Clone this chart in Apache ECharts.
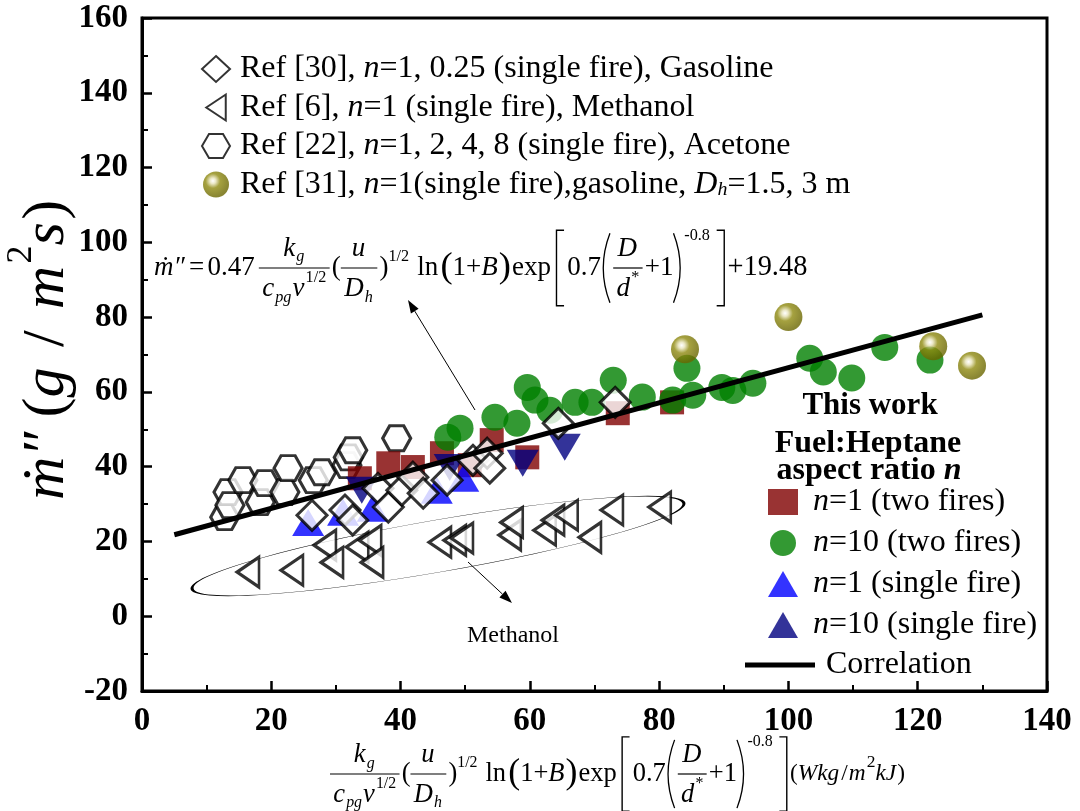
<!DOCTYPE html>
<html>
<head>
<meta charset="utf-8">
<script src="https://cdn.jsdelivr.net/npm/echarts@6/dist/echarts.min.js"></script>
<style>
  html, body { margin: 0; padding: 0; background: #fff; }
  #main { width: 1080px; height: 811px; }
</style>
</head>
<body>
<div id="main"></div>
<script>
var SERIF = '"Liberation Serif", "Times New Roman", serif';

// ---- data ----
var ref30 = [[26.3, 27.0], [31.4, 28.4], [32.6, 25.7], [36.5, 34.2], [38.1, 29.2], [40.2, 33.7],
  [41.9, 37.2], [43.5, 32.9], [47.2, 36.4], [51.2, 41.7], [53.4, 43.6], [53.8, 39.6],
  [64.4, 51.6], [73.2, 57.2]];
var ref6 = [[16.4, 11.8], [23.2, 12.3], [28.3, 19.0], [29.4, 14.4], [33.3, 18.5], [35.3, 20.3],
  [35.6, 14.4], [46.1, 19.8], [48.4, 20.3], [49.5, 20.9], [56.9, 21.7], [57.2, 25.1],
  [62.3, 23.0], [63.6, 25.7], [65.7, 27.0], [69.3, 21.1], [72.7, 28.4], [80.1, 29.2]];
var ref22 = [[12.8, 26.5], [13.3, 33.2], [13.6, 29.7], [15.6, 36.4], [18.3, 30.5], [19.0, 35.6],
  [22.1, 33.2], [22.6, 39.6], [26.5, 36.4], [27.8, 38.5], [31.7, 40.4], [31.9, 42.5],
  [32.6, 44.4], [39.4, 47.6]];
var ref31 = [[84.0, 71.4], [100.0, 80.0], [122.4, 72.2], [128.4, 67.0]];
var twoFiresN1 = [[33.7, 36.9], [38.1, 40.9], [41.9, 39.9], [46.4, 43.6], [50.7, 40.4],
  [54.1, 47.1], [59.6, 42.5], [73.6, 54.3], [82.0, 57.2]];
var twoFiresN10 = [[47.3, 47.9], [49.2, 50.3], [54.6, 53.2], [59.6, 61.2], [58.0, 51.6],
  [60.8, 57.8], [63.1, 55.1], [67.0, 57.2], [69.6, 57.2], [72.9, 63.1], [77.4, 58.6],
  [82.1, 57.8], [84.3, 66.3], [85.2, 59.1], [89.7, 61.2], [91.4, 60.4], [94.5, 62.3],
  [103.3, 69.0], [105.4, 65.3], [109.8, 63.7], [114.9, 71.9], [121.9, 68.5]];
var singleN1 = [[25.7, 25.1], [31.1, 27.8], [35.7, 28.9], [45.6, 33.7], [49.7, 36.9]];
var singleN10 = [[34.0, 33.7], [47.6, 39.8], [58.9, 40.9], [65.4, 45.2]];
var correlation = [[5, 21.8], [130, 80.6]];
var xTicks = { min: 0, max: 140, step: 20 };
var yTicks = { min: -20, max: 160, step: 20 };

// ---- little typesetter for the formulas ----
var mctx = document.createElement('canvas').getContext('2d');
function fontOf(size, it, bold) {
  return (it ? 'italic ' : '') + (bold ? 'bold ' : '') + Math.round(size * 10) / 10 + 'px ' + SERIF;
}
function tw(s, f) { mctx.font = f; return mctx.measureText(s).width; }

function row(tokens, x, y, size) {
  var els = [], cx = x;
  tokens.forEach(function (tk) {
    if (tk.gap != null) {
      cx += tk.gap * size;
    } else if (tk.frac) {
      var n = row(tk.frac[0], 0, 0, size), d = row(tk.frac[1], 0, 0, size);
      var w = Math.max(n.w, d.w) + size * 0.25;
      els = els.concat(row(tk.frac[0], cx + (w - n.w) / 2, y - size * 0.72, size).els,
        row(tk.frac[1], cx + (w - d.w) / 2, y + size * 0.78, size).els);
      els.push({ type: 'line', shape: { x1: cx, y1: y, x2: cx + w, y2: y },
        style: { stroke: '#000', lineWidth: 1.2 } });
      cx += w + size * 0.08;
    } else if (tk.big) {
      var h = size * 1.4, bw = size * 0.28;
      if (tk.big === '[' || tk.big === ']') {
        var x0 = tk.big === '[' ? cx + bw : cx, x1 = tk.big === '[' ? cx : cx + bw;
        els.push({ type: 'polyline', shape: { points: [[x0, y - h], [x1, y - h], [x1, y + h], [x0, y + h]] },
          style: { stroke: '#000', lineWidth: 1.4, fill: null } });
      } else {
        var a = tk.big === '(' ? cx + bw : cx, b = tk.big === '(' ? cx - bw * 0.15 : cx + bw * 1.15;
        var hh = h * 0.92;
        els.push({ type: 'bezierCurve', shape: { x1: a, y1: y - hh, x2: a, y2: y + hh,
          cpx1: b, cpy1: y - hh * 0.35, cpx2: b, cpy2: y + hh * 0.35 },
          style: { stroke: '#000', lineWidth: 1.3, fill: null } });
      }
      cx += bw + size * 0.12;
    } else {
      var small = tk.sub != null || tk.sup != null;
      var sz = (small ? size * 0.6 : size) * (tk.sc || 1);
      var s = tk.t != null ? tk.t : (tk.sub != null ? tk.sub : tk.sup);
      var dy = tk.sub != null ? size * 0.32 : (tk.sup != null ? -size * 0.42 : 0);
      if (tk.dy != null) dy = tk.dy * size;
      var f = fontOf(sz, tk.i);
      els.push({ type: 'text', x: cx, y: y + dy,
        style: { text: s, font: f, fill: '#000', verticalAlign: 'middle', textVerticalAlign: 'middle' } });
      cx += tw(s, f) + (tk.i ? size * 0.04 : 0);
    }
  });
  return { els: els, w: cx - x };
}

var fracK = { frac: [[{ t: 'k', i: 1 }, { sub: 'g', i: 1 }],
  [{ t: 'c', i: 1 }, { sub: 'pg', i: 1 }, { t: 'v', i: 1 }, { sup: '1/2' }]] };
var fracU = { frac: [[{ t: 'u', i: 1 }], [{ t: 'D', i: 1 }, { sub: 'h', i: 1 }]] };
var fracD = { frac: [[{ t: 'D', i: 1 }], [{ t: 'd', i: 1 }, { sup: '*' }]] };
var core = [fracK, { t: '(' }, fracU, { t: ')' }, { sup: '1/2' }, { gap: 0.3 }, { t: 'ln' }, { gap: 0.08 },
  { t: '(', sc: 1.35, dy: -0.02 }, { t: '1+' }, { t: 'B', i: 1 }, { t: ')', sc: 1.35, dy: -0.02 },
  { gap: 0.04 }, { t: 'exp' }, { gap: 0.2 }, { big: '[' }, { t: '0.7' }, { gap: 0.05 }, { big: '(' },
  fracD, { t: '+1' }, { big: ')' }, { sup: '-0.8', dy: -1.2 }, { gap: 0.25 }, { big: ']' }];
var topFormula = [{ t: 'ṁ″', i: 1 }, { gap: 0.12 }, { t: '=' }, { gap: 0.12 }, { t: '0.47' },
  { gap: 0.15 }].concat(core, [{ t: '+19.48', sc: 1.05 }]);
var xFormula = core.concat([{ t: '(', sc: 0.88 }, { t: 'Wkg', i: 1, sc: 0.88 }, { gap: 0.04 },
  { t: '/', sc: 0.88 }, { gap: 0.04 }, { t: 'm', i: 1, sc: 0.88 }, { sup: '2', sc: 1.1 },
  { t: 'kJ', i: 1, sc: 0.88 }, { t: ')', sc: 0.88 }]);
var yName = [{ t: 'ṁ″', i: 1 }, { gap: 0.2 }, { t: '(' }, { t: 'g', i: 1 }, { gap: 0.3 }, { t: '/' },
  { gap: 0.35 }, { t: 'm', i: 1 }, { sup: '2' }, { t: 's', i: 1 }, { t: ')' }];

var fTop = row(topFormula, 154, 268, 27);
var fX = row(xFormula, 330, 774, 26.5);
var fY = row(yName, 0, 0, 60);

function arrow(x1, y1, x2, y2) {
  var ang = Math.atan2(y2 - y1, x2 - x1), L = 13, W = 4.5;
  var bx = x2 - L * Math.cos(ang), by = y2 - L * Math.sin(ang);
  return [
    { type: 'line', shape: { x1: x1, y1: y1, x2: bx, y2: by }, style: { stroke: '#000', lineWidth: 1 } },
    { type: 'polygon', shape: { points: [[x2, y2],
      [bx + W * Math.sin(ang), by - W * Math.cos(ang)],
      [bx - W * Math.sin(ang), by + W * Math.cos(ang)]] }, style: { fill: '#000' } }
  ];
}

var hexagon = 'path://M0,5 L2.9,0 L8.7,0 L11.6,5 L8.7,10 L2.9,10 Z';
var leftTri = 'path://M0,6 L9,0 L9,12 Z';
var sphere = new echarts.graphic.RadialGradient(0.38, 0.36, 0.62, [
  { offset: 0, color: '#ffffff' },
  { offset: 0.18, color: '#e6e2b8' },
  { offset: 0.45, color: '#8f8a10' },
  { offset: 1, color: '#6b6700' }
]);

var legendNames = {
  ref30: 'Ref [30], {i|n}=1, 0.25 (single fire), Gasoline',
  ref6: 'Ref [6], {i|n}=1 (single fire), Methanol',
  ref22: 'Ref [22], {i|n}=1, 2, 4, 8 (single fire), Acetone',
  ref31: 'Ref [31], {i|n}=1(single fire),gasoline, {i|D}{s|h}=1.5, 3 m',
  a: '{i|n}=1 (two fires)',
  b: '{i|n}=10 (two fires)',
  c: '{i|n}=1 (single fire)',
  d: '{i|n}=10 (single fire)',
  corr: 'Correlation'
};
function legendText(fs, pad) {
  return {
    fontFamily: SERIF, fontSize: fs, color: '#000', lineHeight: 30, padding: [0, 0, 0, pad],
    rich: {
      i: { fontFamily: SERIF, fontSize: fs, fontStyle: 'italic', color: '#000', lineHeight: 30 },
      s: { fontFamily: SERIF, fontSize: fs * 0.62, fontStyle: 'italic', color: '#000',
        verticalAlign: 'bottom', lineHeight: 26 }
    }
  };
}
function label(txt, x, y, font, rich) {
  return { type: 'text', x: x, y: y, silent: true,
    style: { text: txt, font: font, fill: '#000', align: 'center', verticalAlign: 'middle',
      textAlign: 'center', textVerticalAlign: 'middle', rich: rich } };
}

var myChart = echarts.init(document.getElementById('main'));
var openStyle = { color: '#fff', borderColor: '#000', borderWidth: 3 };
var axisCommon = {
  type: 'value',
  axisLine: { onZero: false, lineStyle: { color: '#000', width: 3 } },
  axisTick: { inside: true, length: 10, lineStyle: { color: '#000', width: 2.5 } },
  minorTick: { show: true, splitNumber: 2, length: 6, lineStyle: { color: '#000', width: 2 } },
  splitLine: { show: false },
  axisLabel: { margin: 14, color: '#000', fontFamily: SERIF, fontWeight: 'bold', fontSize: 33 }
};

var option = {
  backgroundColor: '#fff',
  animation: false,
  grid: { left: 142, right: 33, top: 18, bottom: 120, show: true, borderColor: '#000', borderWidth: 3 },
  xAxis: echarts.util.merge({ min: xTicks.min, max: xTicks.max, interval: xTicks.step }, axisCommon),
  yAxis: echarts.util.merge({ min: yTicks.min, max: yTicks.max, interval: yTicks.step }, axisCommon),
  legend: [
    {
      data: ['ref30', 'ref6', 'ref22', 'ref31'], orient: 'vertical', left: 196, top: 48,
      itemGap: 6.5, itemWidth: 28, itemHeight: 26, textStyle: legendText(32, 5),
      formatter: function (n) { return legendNames[n]; }
    },
    {
      data: ['a', 'b', 'c', 'd'], orient: 'vertical', left: 763, top: 481,
      itemGap: 9, itemWidth: 30, itemHeight: 26, textStyle: legendText(32, 10),
      formatter: function (n) { return legendNames[n]; }
    },
    {
      data: [{ name: 'corr', icon: 'rect' }], left: 740, top: 644, itemWidth: 70, itemHeight: 5,
      textStyle: legendText(32, 6), formatter: function (n) { return legendNames[n]; }
    }
  ],
  series: [
    { name: 'ref6', type: 'scatter', data: ref6, symbol: leftTri, symbolSize: [22, 30], itemStyle: openStyle },
    { name: 'ref22', type: 'scatter', data: ref22, symbol: hexagon, symbolSize: [28, 25], itemStyle: openStyle },
    { name: 'a', type: 'scatter', data: twoFiresN1, symbol: 'rect', symbolSize: 24, itemStyle: { color: '#7f0000' } },
    { name: 'b', type: 'scatter', data: twoFiresN10, symbol: 'circle', symbolSize: 27, itemStyle: { color: '#008000' } },
    { name: 'c', type: 'scatter', data: singleN1, symbol: 'triangle', symbolSize: [32, 27], itemStyle: { color: '#0000ff' } },
    { name: 'd', type: 'scatter', data: singleN10, symbol: 'triangle', symbolRotate: 180, symbolSize: [32, 27], itemStyle: { color: '#000080' } },
    { name: 'corr', type: 'line', data: correlation, symbol: 'none', lineStyle: { color: '#000', width: 5 }, itemStyle: { color: '#000' } },
    { name: 'ref30', type: 'scatter', data: ref30, symbol: 'diamond', symbolSize: [30, 30], itemStyle: openStyle },
    { name: 'ref31', type: 'scatter', data: ref31, symbol: 'circle', symbolSize: 28, itemStyle: { color: sphere } }
  ],
  graphic: [
    { type: 'group', children: fTop.els, silent: true },
    { type: 'group', children: fX.els, silent: true },
    { type: 'group', x: 47, y: 350 + fY.w / 2, rotation: Math.PI / 2, children: fY.els, silent: true },
    label('This work', 870, 406, fontOf(31, 0, 1)),
    label('Fuel:Heptane', 868, 444, fontOf(32, 0, 1)),
    label('aspect ratio {i|n}', 869, 471, fontOf(32, 0, 1), { i: { font: fontOf(32, 1, 1) } }),
    label('Methanol', 513, 636, fontOf(24)),
    { type: 'circle', x: 438, y: 546, rotation: 0.172, scaleX: 9.6, shape: { cx: 0, cy: 0, r: 26 },
      style: { fill: null, stroke: '#000', lineWidth: 1, strokeNoScale: true }, silent: true },
    { type: 'group', children: arrow(475, 410, 408, 300).concat(arrow(468, 562, 512, 603)), silent: true }
  ]
};
myChart.setOption(option);
</script>
</body>
</html>
